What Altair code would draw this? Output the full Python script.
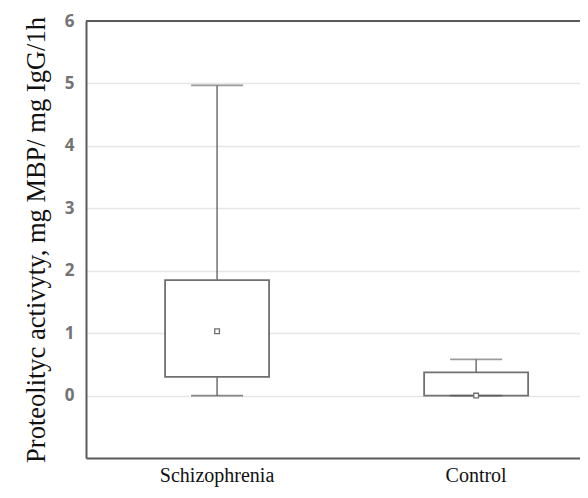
import altair as alt
import pandas as pd

groups = ["Schizophrenia", "Control"]
whisker_low = [0.0, 0.0]
q1 = [0.30, 0.0]
q3 = [1.85, 0.37]
whisker_high = [4.97, 0.58]
center_marker = [1.03, 0.0]
y_ticks = [0, 1, 2, 3, 4, 5, 6]

df = pd.DataFrame({
    "group": groups,
    "lo": whisker_low,
    "q1": q1,
    "q3": q3,
    "hi": whisker_high,
    "mid": center_marker,
})

GRAY = "#707070"
FRAME = "#5a5a5a"
W, H = 494, 437

x = alt.X("group:N",
          scale=alt.Scale(domain=groups, paddingInner=0.198, paddingOuter=0.0525, align=1),
          sort=groups,
          axis=alt.Axis(title=None, labelAngle=0, labelFont="Liberation Serif", labelFontSize=20,
                        labelColor="#111", labelPadding=7, domain=True, domainColor=FRAME,
                        domainWidth=2, ticks=False))
y_scale = alt.Scale(domain=[-1, 6], nice=False, zero=False)
y_axis = alt.Axis(title="Proteolityc activyty, mg MBP/ mg IgG/1h", values=y_ticks, format="d",
                  titleFont="Liberation Serif", titleFontSize=26.5, titleFontWeight="normal",
                  titleColor="#111", titlePadding=14,
                  labelFont="Open Sans", labelFontSize=17, labelFontWeight="bold",
                  labelColor="#737373", labelPadding=12, domain=True, domainColor=FRAME,
                  domainWidth=2, ticks=False,
                  grid=True, gridColor="#e6e6e6", gridWidth=1.5)

base = alt.Chart(df)

whisk = base.mark_rule(color=GRAY, strokeWidth=1.5).encode(
    x=x, y=alt.Y("lo:Q", scale=y_scale, axis=y_axis), y2="hi:Q")
box = base.mark_bar(size=104, fill="white", stroke=GRAY, strokeWidth=1.8).encode(
    x=x, y=alt.Y("q1:Q", scale=y_scale), y2="q3:Q")
cap_hi = base.mark_tick(size=52, thickness=1.8, color=GRAY).encode(
    x=x, y=alt.Y("hi:Q", scale=y_scale))
cap_lo = base.mark_tick(size=52, thickness=1.8, color="#555").encode(
    x=x, y=alt.Y("lo:Q", scale=y_scale))
mid = base.mark_square(size=22, fill="white", stroke=GRAY, strokeWidth=1.3, opacity=1,
                       filled=False).encode(
    x=x, y=alt.Y("mid:Q", scale=y_scale))
top_frame = alt.Chart(pd.DataFrame({"k": [0]})).mark_rule(color=FRAME, strokeWidth=2).encode(
    x=alt.value(0), x2=alt.value(W), y=alt.value(0))

chart = alt.layer(whisk, box, cap_hi, cap_lo, mid, top_frame).properties(
    width=W, height=H,
    autosize=alt.AutoSizeParams(type="none"),
    padding={"left": 78, "top": 13, "right": 0, "bottom": 32},
).configure_view(stroke=None)

chart.save("out.html", embed_options={"renderer": "svg", "actions": False})
